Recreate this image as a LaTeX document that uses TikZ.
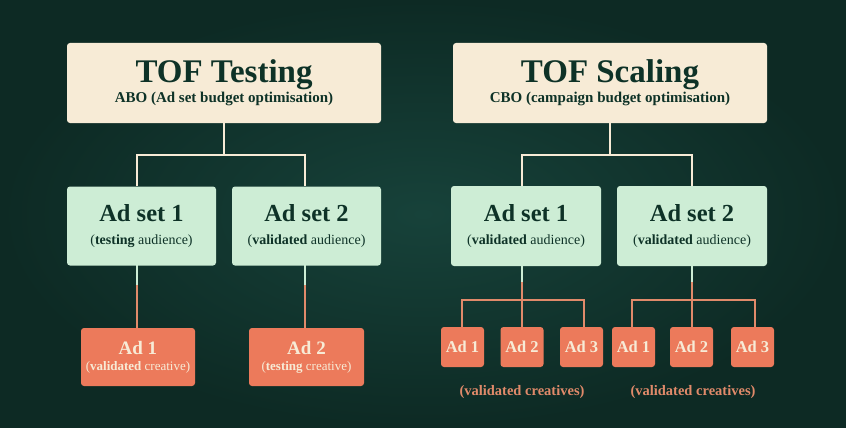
\documentclass[tikz,border=0pt]{standalone}
\usepackage{fontspec}
\setmainfont{Liberation Serif}
\begin{document}
\begin{tikzpicture}[x=1pt,y=-1pt,
 box/.style={rounded corners=3pt,align=center,inner sep=0pt},
 cream/.style={box,fill=creamc,text=darkc},
 mint/.style={box,fill=mintc,text=darkc},
 ora/.style={box,fill=orac,text=creamc},
 cl/.style={draw=creamc,line width=2pt},
 ml/.style={draw=mintc,line width=2pt},
 ol/.style={draw=olc,line width=2pt}]
\definecolor{bgc}{HTML}{17423A}
\definecolor{bgd}{HTML}{0D2A24}
\definecolor{creamc}{HTML}{F7EBD6}
\definecolor{mintc}{HTML}{CDEDD5}
\definecolor{orac}{HTML}{EC7A5B}
\definecolor{olc}{HTML}{E08A6A}
\definecolor{darkc}{HTML}{0E3227}
\useasboundingbox (0,0) rectangle (846,428);
\shade[inner color=bgc,outer color=bgd] (0,0) rectangle (846,428);
% left
\node[cream,minimum width=314pt,minimum height=80pt] (t1) at (224,83)
 {{\fontsize{33}{34}\selectfont\bfseries TOF Testing}\\[1pt]{\fontsize{15}{16}\selectfont\bfseries ABO (Ad set budget optimisation)}};
\node[mint,minimum width=149pt,minimum height=79pt] (a1) at (141.5,226)
 {{\fontsize{24.5}{26}\selectfont\bfseries Ad set 1}\\[11pt]{\fontsize{14}{15}\selectfont(\textbf{testing} audience)}};
\node[mint,minimum width=149pt,minimum height=79pt] (a2) at (306.5,226)
 {{\fontsize{24.5}{26}\selectfont\bfseries Ad set 2}\\[11pt]{\fontsize{14}{15}\selectfont(\textbf{validated} audience)}};
\node[ora,minimum width=114pt,minimum height=58pt] (d1) at (138,357)
 {{\fontsize{19}{20}\selectfont\bfseries Ad 1}\\[4pt]{\fontsize{13}{14}\selectfont(\textbf{validated} creative)}};
\node[ora,minimum width=115pt,minimum height=58pt] (d2) at (306.5,357)
 {{\fontsize{19}{20}\selectfont\bfseries Ad 2}\\[4pt]{\fontsize{13}{14}\selectfont(\textbf{testing} creative)}};
\coordinate (j1) at (224,155);
\draw[cl] (t1.south) -- (j1);
\draw[cl] (a1.north -| 137,0) -- (137,155) -- (305,155) -- (a2.north -| 305,0);
\draw[ml] (137,265) -- (137,285);
\draw[ol] (137,285) -- (d1.north -| 137,0);
\draw[ml] (305,265) -- (305,285);
\draw[ol] (305,285) -- (d2.north -| 305,0);
% right
\node[cream,minimum width=314pt,minimum height=80pt] (t2) at (610,83)
 {{\fontsize{33}{34}\selectfont\bfseries TOF Scaling}\\[1pt]{\fontsize{15}{16}\selectfont\bfseries CBO (campaign budget optimisation)}};
\node[mint,minimum width=150pt,minimum height=80pt] (b1) at (526,226)
 {{\fontsize{24.5}{26}\selectfont\bfseries Ad set 1}\\[11pt]{\fontsize{14}{15}\selectfont(\textbf{validated} audience)}};
\node[mint,minimum width=150pt,minimum height=80pt] (b2) at (692,226)
 {{\fontsize{24.5}{26}\selectfont\bfseries Ad set 2}\\[11pt]{\fontsize{14}{15}\selectfont(\textbf{validated} audience)}};
\draw[cl] (t2.south) -- (610,155);
\draw[cl] (522,186) -- (522,155) -- (692,155) -- (692,186);
\foreach \n/\x/\t in {e1/462.5/Ad 1,e2/522/Ad 2,e3/581.5/Ad 3,f1/633.5/Ad 1,f2/691.5/Ad 2,f3/752.5/Ad 3}{
 \node[ora,minimum width=43pt,minimum height=40pt,font=\fontsize{16.5}{18}\selectfont\bfseries] (\n) at (\x,347) {\t};
}
\draw[ml] (522,266) -- (522,282);
\draw[ml] (692,266) -- (692,282);
\draw[ol] (522,282) -- (522,327);
\draw[ol] (462,327) -- (462,300) -- (584,300) -- (584,327);
\draw[ol] (692,282) -- (692,327);
\draw[ol] (632,327) -- (632,300) -- (755,300) -- (755,327);
\node[text=olc,font=\fontsize{14.5}{16}\selectfont\bfseries] (c1) at (522,392) {(validated creatives)};
\node[text=olc,font=\fontsize{14.5}{16}\selectfont\bfseries] (c2) at (693,392) {(validated creatives)};
\end{tikzpicture}
\end{document}
